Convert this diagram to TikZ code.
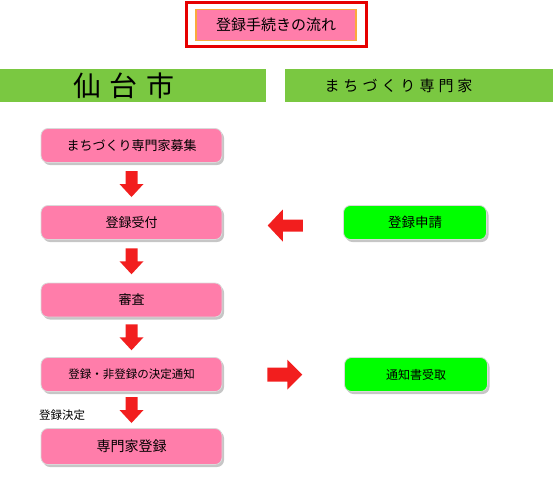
\documentclass[tikz,border=0pt]{standalone}
\usepackage{fontspec}
\setmainfont{Noto Sans CJK JP}
\usetikzlibrary{shadows,calc}
\definecolor{boxpink}{RGB}{255,125,170}
\definecolor{hdrgreen}{RGB}{122,200,65}
\definecolor{boxgreen}{RGB}{0,255,0}
\definecolor{arrowred}{RGB}{242,30,30}
\definecolor{titleorange}{RGB}{250,170,60}
\definecolor{titlered}{RGB}{230,0,0}
\begin{document}
\begin{tikzpicture}[x=1pt,y=-1pt,
  basebox/.style={draw=white!70!gray, line width=0.8pt, rounded corners=7pt,
    minimum height=34pt, inner sep=0pt,
    drop shadow={shadow xshift=2pt,shadow yshift=-2.5pt,opacity=.45,fill=gray}},
  pinkbox/.style={basebox, fill=boxpink, minimum width=181pt},
  greenbox/.style={basebox, fill=boxgreen, minimum width=143pt},
  header/.style={fill=hdrgreen, minimum height=33pt, inner sep=0pt},
  downarr/.pic={\fill[arrowred] (-6,-13) -- (6,-13) -- (6,0) -- (12,0) -- (0,13) -- (-12,0) -- (-6,0) -- cycle;},
  leftarr/.pic={\fill[arrowred] (-17,0) -- (-2,-16) -- (-2,-6) -- (18,-6) -- (18,6) -- (-2,6) -- (-2,16) -- cycle;},
  rightarr/.pic={\fill[arrowred] (-17,-7) -- (3,-7) -- (3,-15) -- (18,0) -- (3,15) -- (3,7) -- (-17,7) -- cycle;}
]
\useasboundingbox (0,0) rectangle (553,480);
% title
\node[draw=titlered, line width=3pt, minimum width=180pt, minimum height=44pt, inner sep=0pt] (titleframe) at (276.5,24.5) {};
\node[draw=titleorange, line width=1.5pt, fill=boxpink, minimum width=160pt, minimum height=31pt, inner sep=0pt,
  font=\fontsize{15}{17}\selectfont] (title) at (276,25) {登録手続きの流れ};
% headers
\node[header, minimum width=266pt] (hcity) at (133,85.5) {};
\node[header, minimum width=268pt] (hexp) at (419,85.5) {};
\node[inner sep=0pt, font=\fontsize{28}{30}\selectfont] (hcitytext) at (124,85.5) {仙\hspace{9pt}台\hspace{9pt}市};
\node[inner sep=0pt, font=\fontsize{15}{17}\selectfont] (hexptext) at (398.5,85.5) {ま\hspace{4pt}ち\hspace{4pt}づ\hspace{4pt}く\hspace{4pt}り\hspace{4pt}専\hspace{4pt}門\hspace{4pt}家};
% left column
\node[pinkbox, font=\fontsize{13}{15}\selectfont] (b1) at (131.5,145.5) {まちづくり専門家募集};
\node[pinkbox, font=\fontsize{13}{15}\selectfont] (b2) at (131.5,222.5) {登録受付};
\node[pinkbox, font=\fontsize{13}{15}\selectfont] (b3) at (131.5,300) {審査};
\node[pinkbox, font=\fontsize{11.5}{13}\selectfont] (b4) at (131.5,374.5) {登録・非登録の決定通知};
\node[pinkbox, minimum height=36pt, font=\fontsize{14}{16}\selectfont] (b5) at (131.5,446.5) {専門家登録};
% right column
\node[greenbox, font=\fontsize{13.5}{16}\selectfont] (g1) at (415,222.5) {登録申請};
\node[greenbox, font=\fontsize{12}{14}\selectfont] (g2) at (416,374.5) {通知書受取};
% label
\node[anchor=west, inner sep=0pt, font=\fontsize{11.5}{13}\selectfont] (lbl) at (39,415) {登録決定};
% arrows
\pic at ($(b1.south)!0.5!(b2.north)$) {downarr};
\pic at ($(b2.south)!0.5!(b3.north)$) {downarr};
\pic at ($(b3.south)!0.5!(b4.north)$) {downarr};
\pic at ($(b4.south)!0.5!(b5.north)$) {downarr};
\pic at ($(b2.east)!0.5!(g1.west)+(2,3)$) {leftarr};
\pic at ($(b4.east)!0.5!(g2.west)+(1,0)$) {rightarr};
\end{tikzpicture}
\end{document}
